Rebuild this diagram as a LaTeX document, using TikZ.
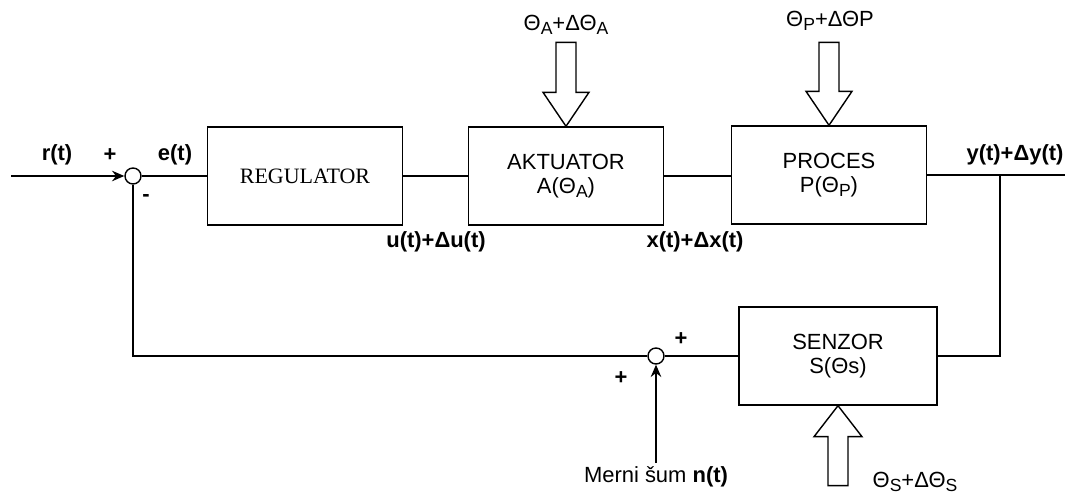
\documentclass[tikz,border=0pt]{standalone}
\usepackage{fontspec}
\setmainfont{Liberation Sans}
\newfontfamily\serifbox{Liberation Serif}
\usetikzlibrary{arrows.meta}
\newcommand{\ind}[1]{\raisebox{-0.35ex}{\fontsize{10}{10}\selectfont #1}}

\begin{document}
\begin{tikzpicture}[
  x=0.02cm, y=-0.02cm, line width=0.8pt,
  >={Stealth[length=7pt,width=6pt]},
  blok/.style={draw, minimum width=3.9cm, minimum height=1.96cm,
               align=center, font=\fontsize{12.5}{14}\selectfont, inner sep=0pt},
  sumator/.style={draw, circle, minimum size=0.32cm, inner sep=0pt, fill=white},
  sig/.style={font=\fontsize{12.5}{14}\selectfont\bfseries, inner sep=0pt},
  znak/.style={font=\fontsize{12.5}{14}\selectfont\bfseries, inner sep=0pt},
  par/.style={font=\fontsize{12.5}{14}\selectfont, inner sep=0pt},
  hollow/.style={draw, fill=white, line width=0.8pt, line join=miter},
]
\useasboundingbox (0,0) rectangle (1065,493);

% --- blocks ---
\node[blok] (reg) at (305,176) {\serifbox REGULATOR};
\node[blok] (akt) at (566,176) {AKTUATOR\\A(Θ\ind{A})};
\node[blok] (pro) at (829,175) {PROCES\\P(Θ\ind{P})};
\node[blok, minimum width=3.96cm] (sen) at (838,356) {SENZOR\\S(Θs)};

% --- summing points ---
\node[sumator] (sum1) at (133,176) {};
\node[sumator] (sum2) at (656,356) {};

\coordinate (in)    at (11,176);
\coordinate (out)   at (1065,175);
\coordinate (tap)   at (1000,175);
\coordinate (noise) at (656,463);

% --- forward path ---
\draw[->] (in) -- (sum1);
\draw (sum1) -- (sum1 -| reg.west);
\draw (reg.east) -- (reg.east -| akt.west);
\draw (akt.east) -- (akt.east -| pro.west);
\draw (pro.east) -- (out);

% --- feedback path ---
\draw (tap) |- (sen.east);
\draw (sen.west) -- (sum2);
\draw (sum2) -| (sum1);
\draw[->] (noise) -- (sum2);

% --- parameter arrows (hollow) ---
\draw[hollow] (akt.north) -- ++(-23,-34) -- ++(13,0) -- ++(0,-50)
  -- ++(20,0) -- ++(0,50) -- ++(13,0) -- cycle;
\draw[hollow] (pro.north) -- ++(-23,-34) -- ++(13,0) -- ++(0,-49)
  -- ++(20,0) -- ++(0,49) -- ++(13,0) -- cycle;
\draw[hollow] (sen.south) -- ++(-24,31) -- ++(14,0) -- ++(0,49)
  -- ++(20,0) -- ++(0,-49) -- ++(14,0) -- cycle;

% --- signal labels ---
\node[sig] (lr) at (57,155) {r(t)};
\node[sig] (le) at (175,155) {e(t)};
\node[sig] (lu) at (436,242) {u(t)+Δu(t)};
\node[sig] (lx) at (695,242) {x(t)+Δx(t)};
\node[sig] (ly) at (1015,155) {y(t)+Δy(t)};
\node[par] (ln) at (656,477) {Merni šum \textbf{n(t)}};

% --- signs ---
\node[znak] at (110,155) {+};
\node[znak] at (146,198) {-};
\node[znak] at (681,339) {+};
\node[znak] at (621,378) {+};

% --- parameter labels ---
\node[par] (tA) at (566,25) {Θ\ind{A}+ΔΘ\ind{A}};
\node[par] (tP) at (830,21) {Θ\ind{P}+ΔΘP};
\node[par] (tS) at (915,482) {Θ\ind{S}+ΔΘ\ind{S}};
\end{tikzpicture}
\end{document}
